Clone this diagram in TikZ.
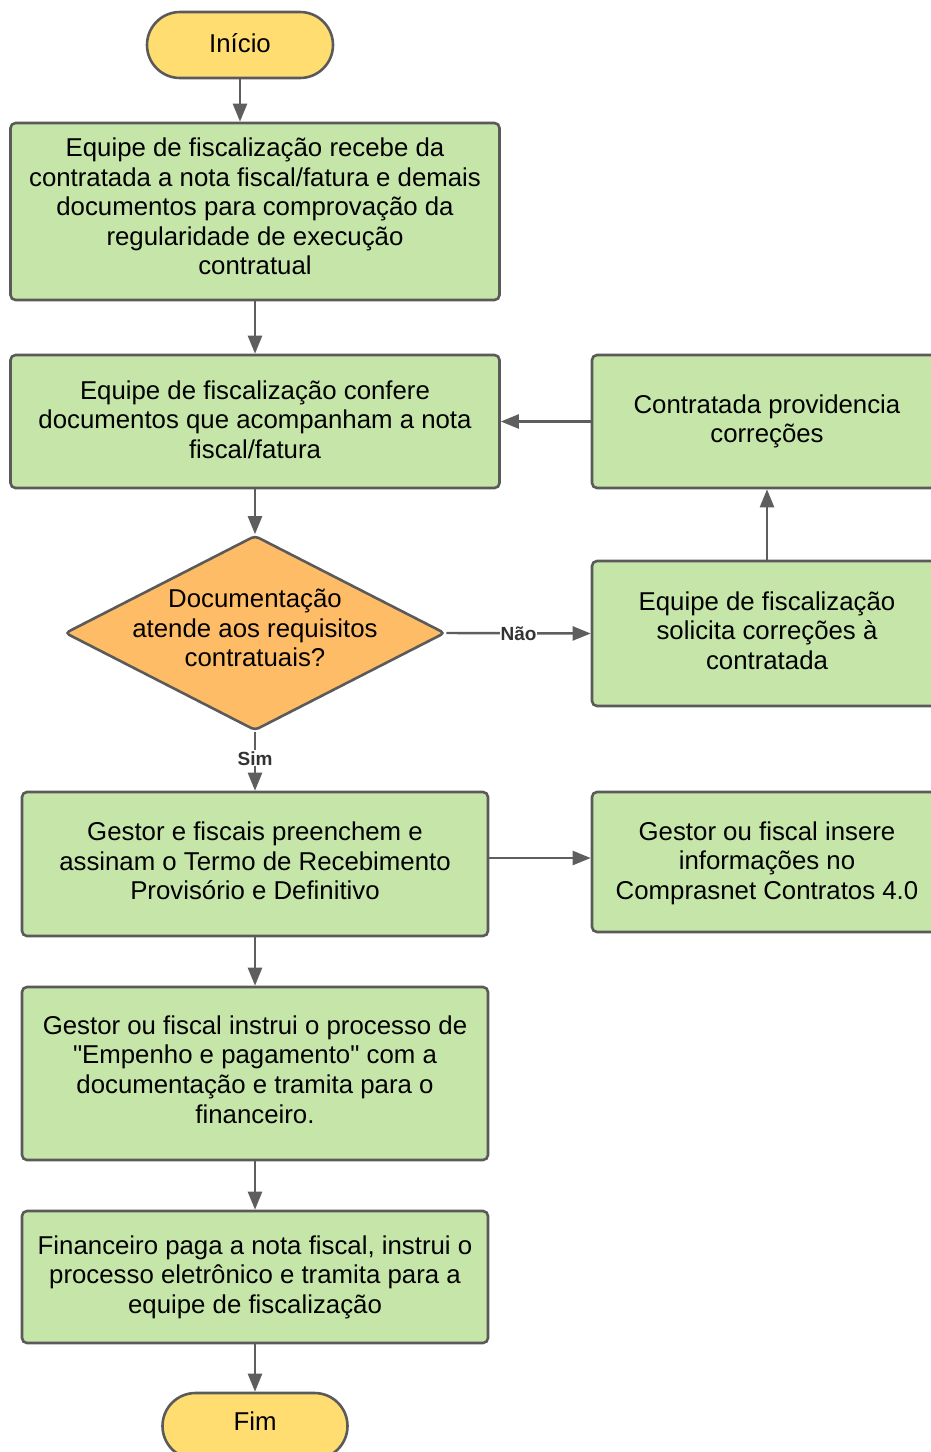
\documentclass[tikz,border=0pt]{standalone}
\usepackage{fontspec}
\setmainfont{Liberation Sans}[Ligatures=TeXOff]
\usetikzlibrary{arrows.meta,shapes.geometric}
\definecolor{gfill}{HTML}{C5E6A8}
\definecolor{yfill}{HTML}{FFDD71}
\definecolor{ofill}{HTML}{FFBC66}
\definecolor{edgec}{HTML}{5A5A5A}
\definecolor{arrc}{HTML}{5E5E5E}
\begin{document}
\begin{tikzpicture}[x=1pt,y=-1pt,
  mainfont/.style={font=\fontsize{25.8}{29.6}\selectfont},
  box/.style={draw=edgec, line width=2.6pt, fill=gfill, rounded corners=5pt, inner sep=0pt},
  term/.style={draw=edgec, line width=2.6pt, fill=yfill, rounded corners=33pt, minimum width=186pt, minimum height=66pt, inner sep=0pt},
  dia/.style={diamond, draw=edgec, line width=2.6pt, fill=ofill, minimum width=380pt, minimum height=195pt, inner sep=0pt, rounded corners=4pt},
  txt/.style={align=center, inner sep=0pt, mainfont},
  conn/.style={draw=arrc, line width=2.4pt, -{Triangle[length=18pt,width=14pt]}},
  lbl/.style={font=\fontsize{19}{22}\selectfont\bfseries, text=black!80, fill=white, inner sep=1pt}]
\useasboundingbox (0,0) rectangle (931,1452);
\clip (0,0) rectangle (931,1452);

% shapes
\node[term] (start) at (240,45) {};
\node[box, minimum width=489pt, minimum height=177pt] (b1) at (255,211.5) {};
\node[box, minimum width=489pt, minimum height=133pt] (b2) at (255,421.5) {};
\node[box, minimum width=350pt, minimum height=133pt] (b3) at (767,421.5) {};
\node[dia] (d) at (255,633) {};
\node[box, minimum width=350pt, minimum height=145pt] (b4) at (767,633.5) {};
\node[box, minimum width=466pt, minimum height=144pt] (b5) at (255,864) {};
\node[box, minimum width=350pt, minimum height=140pt] (b6) at (767,862) {};
\node[box, minimum width=466pt, minimum height=173pt] (b7) at (255,1073.5) {};
\node[box, minimum width=466pt, minimum height=132pt] (b8) at (255,1277) {};
\node[term, minimum width=185pt] (end) at (255,1426) {};

% texts
\node[txt] (startt) at (240,43) {Início};
\node[txt] (b1t) at (255,206.5)
  {Equipe de fiscalização recebe da\\contratada a nota fiscal/fatura e demais\\documentos para comprovação da\\regularidade de execução\\contratual};
\node[txt] (b2t) at (255,419.5)
  {Equipe de fiscalização confere\\documentos que acompanham a nota\\fiscal/fatura};
\node[txt] (b3t) at (767,421.5) {Contratada providencia\\correções};
\node[txt] (dt) at (255,628) {Documentação\\atende aos requisitos\\contratuais?};
\node[txt] (b4t) at (767,630.5) {Equipe de fiscalização\\solicita correções à\\contratada};
\node[txt] (b5t) at (255,861)
  {Gestor e fiscais preenchem e\\assinam o Termo de Recebimento\\Provisório e Definitivo};
\node[txt] (b6t) at (767,863) {Gestor ou fiscal insere\\informações no\\Comprasnet Contratos 4.0};
\node[txt] (b7t) at (255,1069.5)
  {Gestor ou fiscal instrui o processo de\\"Empenho e pagamento" com a\\documentação e tramita para o\\financeiro.};
\node[txt] (b8t) at (255,1277)
  {Financeiro paga a nota fiscal, instrui o\\processo eletrônico e tramita para a\\equipe de fiscalização};
\node[txt] (endt) at (255,1421) {Fim};

% connectors
\draw[conn] (start.south) -- (start.south |- b1.north);
\draw[conn] (b1.south) -- (b2.north);
\draw[conn] (b2.south) -- (d.north);
\draw[conn] (b3.west) -- (b2.east);
\draw[conn] (d.east) -- node[lbl] {Não} (b4.west);
\draw[conn] (b4.north) -- (b3.south);
\draw[conn] (d.south) -- node[lbl, pos=0.45] {Sim} (b5.north);
\draw[conn] ([yshift=6pt]b5.east) -- ([yshift=6pt]b5.east -| b6.west);
\draw[conn] (b5.south) -- (b7.north);
\draw[conn] (b7.south) -- (b8.north);
\draw[conn] (b8.south) -- (end.north);
\end{tikzpicture}
\end{document}
